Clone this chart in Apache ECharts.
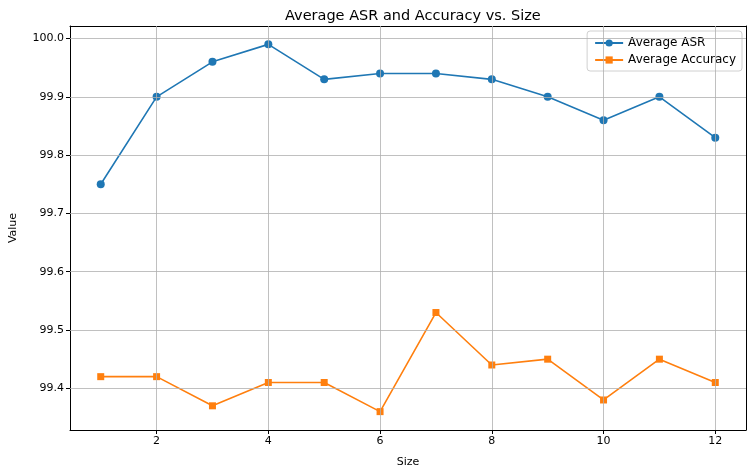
<!DOCTYPE html>
<html><head><meta charset="utf-8">
<script src="https://cdn.jsdelivr.net/npm/echarts@6/dist/echarts.min.js"></script>
<style>html,body{margin:0;padding:0;background:#fff}#c{width:754px;height:476px}</style>
</head><body><div id="c"></div>
<script>
const sizes = [1,2,3,4,5,6,7,8,9,10,11,12];
const avgASR = [99.75,99.90,99.96,99.99,99.93,99.94,99.94,99.93,99.90,99.86,99.90,99.83];
const avgAcc = [99.42,99.42,99.37,99.41,99.41,99.36,99.53,99.44,99.45,99.38,99.45,99.41];
const xTicks = [2,4,6,8,10,12];
const yTicks = [99.4,99.5,99.6,99.7,99.8,99.9,100.0];

const font = 'DejaVu Sans';
const gridStyle = {color:'#b0b0b0', width:0.8, type:'solid'};
const chart = echarts.init(document.getElementById('c'), null, {renderer:'canvas'});
const gridLines = xTicks.map(v=>({xAxis:v})).concat(yTicks.map(v=>({yAxis:v})));
const frameAxis = (pos)=>({type:'value', position:pos, min: pos==='top'?0.45:99.3285, max: pos==='top'?12.55:100.0215,
  axisLine:{show:true, onZero:false, lineStyle:{color:'#000', width:1}},
  axisTick:{show:false}, axisLabel:{show:false}, splitLine:{show:false}});
chart.setOption({
  animation:false,
  backgroundColor:'#fff',
  title:{text:'Average ASR and Accuracy vs. Size', left:280, top:4,
    textStyle:{fontFamily:font, fontSize:14.5, fontWeight:'normal', color:'#000'}},
  legend:{right:12, top:31, orient:'vertical', itemGap:5, itemWidth:28, itemHeight:9,
    backgroundColor:'rgba(255,255,255,0.8)', borderColor:'#d0d0d0', borderWidth:1, borderRadius:3,
    padding:[6,6,5,7],
    textStyle:{fontFamily:font, fontSize:12, color:'#000'},
    data:['Average ASR','Average Accuracy']},
  grid:{left:69, top:26, right:8, bottom:46, containLabel:false},
  xAxis:[{type:'value', min:0.45, max:12.55, name:'Size', nameLocation:'middle', nameGap:27,
    nameTextStyle:{fontFamily:font, fontSize:11, color:'#000'},
    axisLine:{show:true, onZero:false, lineStyle:{color:'#000', width:1}},
    axisTick:{show:true, customValues:xTicks, length:4, lineStyle:{color:'#000'}},
    axisLabel:{customValues:xTicks, fontFamily:font, fontSize:11, color:'#000', margin:6},
    splitLine:{show:false}}, frameAxis('top')],
  yAxis:[{type:'value', min:99.3285, max:100.0215, name:'Value', nameLocation:'middle', nameGap:51,
    nameTextStyle:{fontFamily:font, fontSize:11, color:'#000'},
    axisLine:{show:true, onZero:false, lineStyle:{color:'#000', width:1}},
    axisTick:{show:true, customValues:yTicks, length:4, lineStyle:{color:'#000'}},
    axisLabel:{customValues:yTicks, fontFamily:font, fontSize:11, color:'#000', margin:6,
      formatter:v=>v.toFixed(1)},
    splitLine:{show:false}}, frameAxis('right')],
  series:[
    {name:'Average ASR', type:'line', data:sizes.map((s,i)=>[s,avgASR[i]]),
      symbol:'circle', symbolSize:8, showAllSymbol:true,
      itemStyle:{color:'#1f77b4'}, lineStyle:{color:'#1f77b4', width:1.6},
      markLine:{silent:true, symbol:'none', label:{show:false}, lineStyle:gridStyle,
        animation:false, data:gridLines}, z:3},
    {name:'Average Accuracy', type:'line', data:sizes.map((s,i)=>[s,avgAcc[i]]),
      symbol:'rect', symbolSize:7, showAllSymbol:true,
      itemStyle:{color:'#ff7f0e'}, lineStyle:{color:'#ff7f0e', width:1.6}, z:3}
  ]
});
</script></body></html>
